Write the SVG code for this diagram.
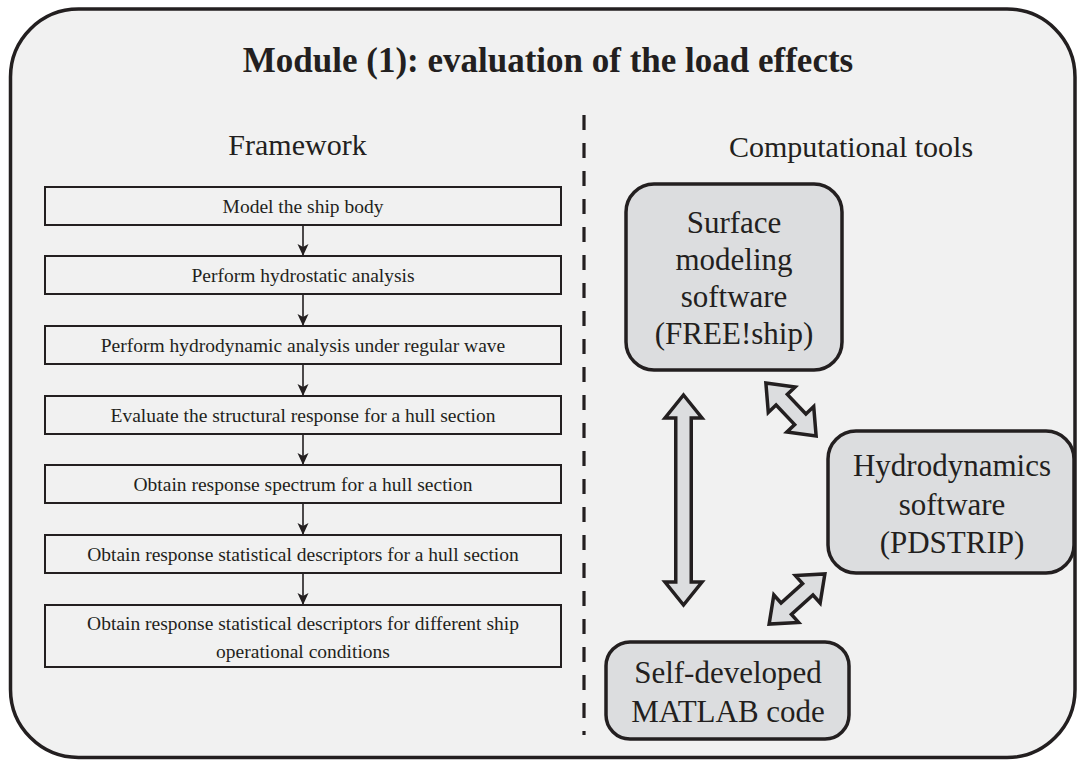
<svg xmlns="http://www.w3.org/2000/svg" width="1078" height="761" viewBox="0 0 1078 761">
<defs>
<style>
text{font-family:'Liberation Serif','Times New Roman',Tinos,'Nimbus Roman','DejaVu Serif',serif;fill:#231f20;text-anchor:middle}
.t{font-size:35px;font-weight:bold}
.h{font-size:30px}
.b{font-size:19.5px}
.n{font-size:31px}
.box{fill:#f1f1f1;stroke:#231f20;stroke-width:2}
.node{fill:#dcdddf;stroke:#231f20;stroke-width:3.5}
.flow{stroke:#231f20;stroke-width:1.6;fill:none;marker-end:url(#ah)}
.big{fill:#dcdddf;stroke:#231f20;stroke-width:3.5;stroke-linejoin:miter}
</style>
<marker id="ah" markerUnits="userSpaceOnUse" markerWidth="12" markerHeight="12" viewBox="0 0 12 12" refX="12" refY="6" orient="auto">
<path d="M0,0.5 L12,6 L0,11.5 L3,6 z" fill="#231f20"/>
</marker>
</defs>
<rect x="0" y="0" width="1078" height="761" fill="#ffffff"/>
<rect id="frame" x="10.5" y="9" width="1064.5" height="748.5" rx="68" ry="68" fill="#f1f1f1" stroke="#231f20" stroke-width="3.5"/>
<g font-family="Liberation Serif, serif">
<text class="t" x="548" y="72">Module (1): evaluation of the load effects</text>
<text class="h" x="297.5" y="155">Framework</text>
<text class="h" x="851" y="157">Computational tools</text>
</g>
<line x1="584" y1="115" x2="584" y2="735" stroke="#231f20" stroke-width="3.2" stroke-dasharray="15 13"/>

<g id="connectors">
<line class="flow" x1="303" y1="225" x2="303" y2="256"/>
<line class="flow" x1="303" y1="294" x2="303" y2="326"/>
<line class="flow" x1="303" y1="364" x2="303" y2="396"/>
<line class="flow" x1="303" y1="434" x2="303" y2="465"/>
<line class="flow" x1="303" y1="503" x2="303" y2="535"/>
<line class="flow" x1="303" y1="573" x2="303" y2="605"/>
<g id="arrow-vertical" transform="translate(683.5,500) rotate(90)">
<path class="big" d="M-105,0 L-82,-18.5 L-82,-7.75 L82,-7.75 L82,-18.5 L105,0 L82,18.5 L82,7.75 L-82,7.75 L-82,18.5 Z"/>
</g>
<g id="arrow-top" transform="translate(791,409.5) rotate(46.5)">
<path class="big" d="M-36.5,0 L-13.5,-18.5 L-13.5,-7.75 L13.5,-7.75 L13.5,-18.5 L36.5,0 L13.5,18.5 L13.5,7.75 L-13.5,7.75 L-13.5,18.5 Z"/>
</g>
<g id="arrow-bottom" transform="translate(797,599) rotate(-42)">
<path class="big" d="M-37.5,0 L-14.5,-18.5 L-14.5,-7.75 L14.5,-7.75 L14.5,-18.5 L37.5,0 L14.5,18.5 L14.5,7.75 L-14.5,7.75 L-14.5,18.5 Z"/>
</g>
</g>

<g id="step1"><rect class="box" x="45" y="187" width="516" height="38"/><text class="b" x="303" y="212.5">Model the ship body</text></g>
<g id="step2"><rect class="box" x="45" y="256" width="516" height="38"/><text class="b" x="303" y="281.5">Perform hydrostatic analysis</text></g>
<g id="step3"><rect class="box" x="45" y="326" width="516" height="38"/><text class="b" x="303" y="351.5">Perform hydrodynamic analysis under regular wave</text></g>
<g id="step4"><rect class="box" x="45" y="396" width="516" height="38"/><text class="b" x="303" y="421.5">Evaluate the structural response for a hull section</text></g>
<g id="step5"><rect class="box" x="45" y="465" width="516" height="38"/><text class="b" x="303" y="490.5">Obtain response spectrum for a hull section</text></g>
<g id="step6"><rect class="box" x="45" y="535" width="516" height="38"/><text class="b" x="303" y="560.5">Obtain response statistical descriptors for a hull section</text></g>
<g id="step7"><rect class="box" x="45" y="605" width="516" height="62"/><text class="b" x="303" y="630">Obtain response statistical descriptors for different ship</text><text class="b" x="303" y="658">operational conditions</text></g>

<g id="surface"><rect class="node" x="626" y="184" width="216" height="186" rx="28"/>
<text class="n" x="734" y="233">Surface</text><text class="n" x="734" y="270">modeling</text><text class="n" x="734" y="307">software</text><text class="n" x="734" y="344">(FREE!ship)</text></g>
<g id="hydro"><rect class="node" x="828" y="431" width="246" height="142" rx="28"/>
<text class="n" x="952" y="476">Hydrodynamics</text><text class="n" x="952" y="515">software</text><text class="n" x="952" y="553">(PDSTRIP)</text></g>
<g id="matlab"><rect class="node" x="606" y="642" width="243" height="97" rx="24"/>
<text class="n" x="728" y="683">Self-developed</text><text class="n" x="728" y="722">MATLAB code</text></g>
</svg>
